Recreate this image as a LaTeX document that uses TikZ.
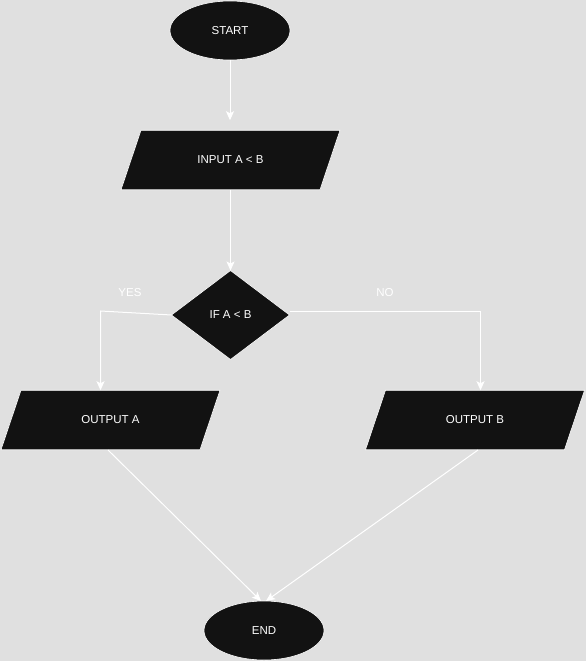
\documentclass[tikz,border=0pt]{standalone}
\usepackage{fontspec}
\setmainfont{Liberation Sans}
\usetikzlibrary{shapes.geometric,arrows.meta,backgrounds}
\definecolor{bg}{HTML}{E0E0E0}
\definecolor{shapefill}{HTML}{121212}
\tikzset{
  base/.style={fill=shapefill,draw=white,line width=0.6pt,text=white,font=\fontsize{11.5}{13}\selectfont,inner sep=0pt,outer sep=0pt},
  term/.style={base,ellipse,minimum width=120pt,minimum height=59pt},
  io/.style={text=white,font=\fontsize{11.5}{13}\selectfont,inner sep=0pt,outer sep=0pt,minimum width=199pt,minimum height=59.5pt},
  iobox/.style={fill=shapefill,draw=white,line width=0.6pt},
  dec/.style={base,diamond,minimum width=118pt,minimum height=89pt},
  conn/.style={draw=white,line width=1pt,-{Stealth[length=9pt,width=8pt,inset=2pt]}},
  lbl/.style={text=white,font=\fontsize{11.5}{13}\selectfont,inner sep=0pt}
}
\newcommand{\myparallelogram}[1]{%
  \begin{pgfonlayer}{background}
    \path[iobox] ([xshift=10pt]#1.north west) -- ([xshift=10pt]#1.north east)
      -- ([xshift=-10pt]#1.south east) -- ([xshift=-10pt]#1.south west) -- cycle;
  \end{pgfonlayer}}
\begin{document}
\begin{tikzpicture}[x=1pt,y=-1pt]
\begin{pgfonlayer}{background}
\fill[bg] (0,0) rectangle (586,661);
\end{pgfonlayer}
\useasboundingbox (0,0) rectangle (586,661);
\node[term] (start) at (230,30.5) {START};
\node[io] (input) at (230.5,160) {INPUT A < B};
\node[dec] (if) at (230.5,315) {IF A < B};
\node[io] (outa) at (110.5,420) {OUTPUT A};
\node[io] (outb) at (475,420) {OUTPUT B};
\node[term] (end) at (264,630.5) {END};
\myparallelogram{input}
\myparallelogram{outa}
\myparallelogram{outb}
\coordinate (ya) at (100.5,311);
\coordinate (nb) at (480.5,311);
\coordinate (oab) at (108,450);
\coordinate (obb) at (478,450);
\draw[conn,shorten >=10pt] (start.south) -- (input.north -| start.south);
\draw[conn] (input.south) -- (if.north);
\draw[conn] (if.west) -- (ya) -- (ya |- outa.north);
\draw[conn] (if.east |- nb) -- (nb) -- (nb |- outb.north);
\draw[conn] (oab) -- ([xshift=-3pt]end.north);
\draw[conn] (obb) -- ([xshift=2pt]end.north);
\node[lbl] (yes) at (130,293) {YES};
\node[lbl] (no) at (385,293) {NO};
\end{tikzpicture}
\end{document}
